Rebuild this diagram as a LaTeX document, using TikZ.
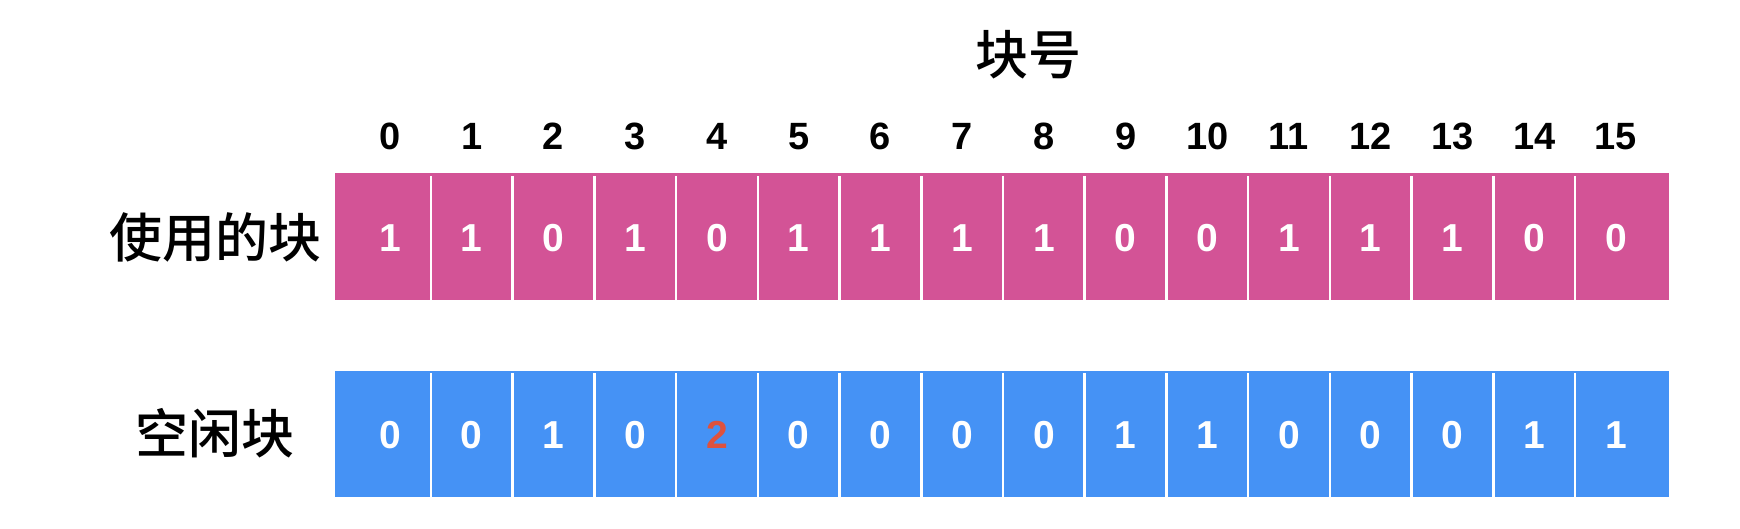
\documentclass[tikz,border=0pt]{standalone}
\usepackage{fontspec}
\setmainfont{Liberation Sans}
\newfontfamily\cjk{Noto Sans CJK SC}[BoldFont={Noto Sans CJK SC Medium}]
\usepackage{xcolor}

\definecolor{usedpink}{RGB}{211,83,150}
\definecolor{freeblue}{RGB}{69,146,245}
\definecolor{markred}{RGB}{222,82,62}

\tikzset{
  idx/.style={anchor=base, font=\fontsize{38}{38}\selectfont\bfseries},
  bit/.style={anchor=base, font=\fontsize{39}{39}\selectfont\bfseries, text=white},
  rowlabel/.style={font=\cjk\fontsize{53}{53}\selectfont\bfseries},
  divider/.style={white, line width=2.5pt}
}

\begin{document}
\begin{tikzpicture}[x=1pt,y=-1pt]
\useasboundingbox (0,0) rectangle (1740,528);

% Title
\node [rowlabel] (title) at (1028,55) {块号};

% Row labels
\node [rowlabel] (usedlabel) at (215,237) {使用的块};
\node [rowlabel] (freelabel) at (215,433) {空闲块};

% Bars
\fill [usedpink] (335,173) rectangle (1669,300);
\fill [freeblue] (335,371) rectangle (1669,497);
\foreach \i in {0,...,14} {
  \draw [divider] ({390+81.73*(\i+0.5)},176) -- ++(0,124);
  \draw [divider] ({390+81.73*(\i+0.5)},373) -- ++(0,124);
}

% Block numbers and bits
\foreach \u/\f/\fc [count=\i from 0] in {1/0/white,1/0/white,0/1/white,1/0/white,0/2/markred,1/0/white,1/0/white,1/0/white,1/0/white,0/1/white,0/1/white,1/0/white,1/0/white,1/0/white,0/1/white,0/1/white} {
  \node [idx] (n\i) at ({390+81.73*\i},149) {\i};
  \node [bit] (u\i) at ({390+81.73*\i},251.5) {\u};
  \node [bit, text=\fc] (f\i) at ({390+81.73*\i},448) {\f};
}
\end{tikzpicture}
\end{document}
